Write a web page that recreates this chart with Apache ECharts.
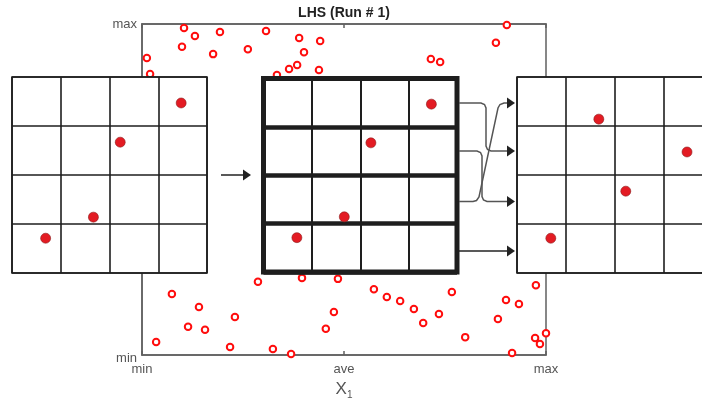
<!DOCTYPE html>
<html>
<head>
<meta charset="utf-8">
<script src="https://cdn.jsdelivr.net/npm/echarts@6/dist/echarts.min.js"></script>
<style>
  html, body { margin: 0; padding: 0; background: #ffffff; }
  #chart { width: 702px; height: 401px; }
</style>
</head>
<body>
<div id="chart"></div>
<script>
// Background Latin hypercube samples, X1 (horizontal) and second input (vertical), 0 = min, 100 = max
const sampleX = [10.4, 13.1, 19.3, 30.7, 38.9, 44.1, 90.3, 87.6, 9.9, 1.2, 17.6, 26.2, 40.1, 71.5, 73.8,
                 36.4, 38.4, 43.8, 2.0, 33.4,
                 7.4, 14.1, 11.4, 15.6, 3.5, 23.0, 21.8, 28.7, 32.4, 36.9, 39.6, 48.5, 47.5, 45.5,
                 57.4, 60.6, 63.9, 67.3, 69.6, 73.5, 76.7, 80.0, 88.1, 90.1, 93.3, 97.5, 91.6, 97.3, 98.5, 100.0];
const sampleY = [98.8, 96.4, 97.6, 97.9, 95.8, 94.9, 99.7, 94.3, 93.1, 89.7, 90.9, 92.4, 91.5, 89.4, 88.5,
                 86.4, 87.6, 86.1, 84.9, 84.6,
                 18.4, 14.5, 8.5, 7.6, 3.9, 11.5, 2.4, 22.1, 1.8, 0.3, 23.3, 23.0, 13.0, 7.9,
                 19.9, 17.5, 16.3, 13.9, 9.7, 12.4, 19.0, 5.4, 10.9, 16.6, 15.4, 21.1, 0.6, 5.1, 3.3, 6.6];
const tickValues = [0, 50, 100];
const xTickLabels = ['min', 'ave', 'max'];
const yTickLabels = ['min', 'max'];

// One sample per row and column of a 4x4 stratification (cell units, origin bottom-left)
const stratX = [0.69, 1.67, 2.22, 3.47];
const stratY = [0.71, 1.14, 2.67, 3.47];
// The same samples after the rows are shuffled
const pairedX = [0.69, 2.22, 3.47, 1.67];
const pairedY = [0.71, 1.67, 2.47, 3.14];

const pairs = (xs, ys) => xs.map((x, i) => [x, ys[i]]);

const frameColor = '#606060';
const textColor = '#555555';
const ink = '#1e1e1e';

// 4x4 panel: a grid with white background and split lines on every cell edge
function panelGrid(left, top, w, h, border) {
  return { left: left, top: top, width: w, height: h, show: true, z: 10,
           outerBoundsMode: 'none', containLabel: false,
           backgroundColor: '#ffffff', borderColor: ink, borderWidth: border };
}
function panelAxis(gridIndex, lineWidth) {
  return { type: 'value', gridIndex: gridIndex, min: 0, max: 4, interval: 1, z: 11,
           axisLine: { show: false }, axisTick: { show: false }, axisLabel: { show: false },
           splitLine: { show: true, lineStyle: { color: ink, width: lineWidth } } };
}
function panelDots(gridIndex, data) {
  return { type: 'scatter', xAxisIndex: gridIndex, yAxisIndex: gridIndex, z: 12,
           data: data, symbol: 'circle', symbolSize: 10, silent: true,
           itemStyle: { color: '#e31b23', borderColor: '#8c2020', borderWidth: 0.6, opacity: 1 } };
}

// Arrow pieces between the panels
const arrowColor = '#222222';
const linkColor = '#555555';
function head(tipX, y) {
  return { type: 'polygon', z: 20, silent: true,
           shape: { points: [[tipX, y], [tipX - 8, y - 5.5], [tipX - 8, y + 5.5]] },
           style: { fill: arrowColor } };
}
function link(points, color) {
  return { type: 'polyline', z: 20, silent: true, shape: { points: points },
           style: { stroke: color, lineWidth: 1.5, fill: null } };
}

const chart = echarts.init(document.getElementById('chart'), null, { renderer: 'canvas' });
chart.setOption({
  animation: false,
  backgroundColor: '#ffffff',
  textStyle: { fontFamily: 'Liberation Sans, Arial, sans-serif' },
  grid: [
    { left: 142, top: 24, width: 404, height: 331, show: true, z: 1,
      outerBoundsMode: 'none', containLabel: false,
      backgroundColor: 'transparent', borderColor: frameColor, borderWidth: 1.5 },
    panelGrid(12, 77, 195, 196, 1.6),
    panelGrid(263.5, 78.5, 193.5, 193.5, 5),
    panelGrid(517, 77, 196, 196, 1.6)
  ],
  xAxis: [
    { type: 'value', gridIndex: 0, min: 0, max: 100, interval: 50, z: 1,
      axisLine: { show: true, lineStyle: { color: frameColor, width: 1.5 } },
      axisTick: { show: true, inside: true, length: 4, lineStyle: { color: frameColor, width: 1.5 } },
      splitLine: { show: false },
      axisLabel: { color: textColor, fontSize: 13, margin: 8,
                   formatter: v => xTickLabels[tickValues.indexOf(v)] },
      name: 'X{s|1}', nameLocation: 'middle', nameGap: 23,
      nameTextStyle: { color: textColor, fontSize: 17,
                       rich: { s: { fontSize: 10, color: textColor, padding: [12, 0, 0, 0] } } } },
    panelAxis(1, 1.6),
    panelAxis(2, 2),
    panelAxis(3, 1.6),
    { type: 'value', gridIndex: 0, position: 'top', min: 0, max: 100, interval: 50, z: 1,
      axisLine: { show: true, lineStyle: { color: frameColor, width: 1.5 } },
      axisTick: { show: true, inside: true, length: 4, lineStyle: { color: frameColor, width: 1.5 } },
      axisLabel: { show: false }, splitLine: { show: false } }
  ],
  yAxis: [
    { type: 'value', gridIndex: 0, min: 0, max: 100, interval: 100, z: 1,
      axisLine: { show: true, lineStyle: { color: frameColor, width: 1.5 } },
      axisTick: { show: false }, splitLine: { show: false },
      axisLabel: { color: textColor, fontSize: 13, margin: 5, verticalAlign: 'middle',
                   formatter: v => (v === 0 ? '{lo|' + yTickLabels[0] + '}' : yTickLabels[1]),
                   rich: { lo: { fontSize: 13, color: textColor, padding: [6, 0, 0, 0] } } } },
    panelAxis(1, 1.6),
    panelAxis(2, 4.5),
    panelAxis(3, 1.6)
  ],
  series: [
    { type: 'scatter', xAxisIndex: 0, yAxisIndex: 0, z: 2, silent: true,
      data: pairs(sampleX, sampleY), symbol: 'circle', symbolSize: 6.5,
      itemStyle: { color: '#ffffff', borderColor: '#ff0d0d', borderWidth: 2, opacity: 1 } },
    panelDots(1, pairs(stratX, stratY)),
    panelDots(2, pairs(stratX, stratY)),
    panelDots(3, pairs(pairedX, pairedY))
  ],
  graphic: [
    { type: 'text', silent: true, z: 20, x: 344, y: 13,
      style: { text: 'LHS (Run # 1)', fill: '#222222', fontSize: 14, fontWeight: 'bold',
               fontFamily: 'Liberation Sans, Arial, sans-serif', align: 'center', verticalAlign: 'middle' } },
    // panel 1 -> panel 2
    link([[221, 175], [244, 175]], arrowColor),
    head(251, 175),
    // shuffled rows of panel 2 -> panel 3
    link([[459, 103], [481, 103], [484.5, 104.5], [486, 108], [486, 146], [487.5, 149.5], [491, 151], [508, 151]], linkColor),
    link([[459, 151], [477, 151], [480.5, 152.5], [482, 156], [482, 196.5], [483.5, 200], [487, 201.5], [508, 201.5]], linkColor),
    link([[459, 201.5], [473, 201.5], [476.5, 200.5], [479, 197], [498, 108], [500, 104.5], [504, 103], [508, 103]], linkColor),
    link([[459, 251], [508, 251]], arrowColor),
    head(515, 103), head(515, 151), head(515, 201.5), head(515, 251)
  ]
});
</script>
</body>
</html>
